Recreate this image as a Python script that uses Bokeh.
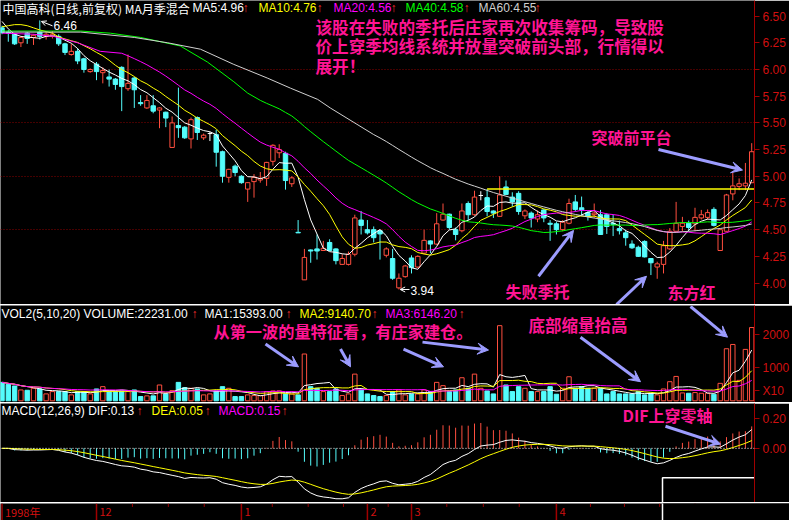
import numpy as np
from bokeh.plotting import figure
from bokeh.layouts import column
from bokeh.models import (Range1d, FixedTicker, PrintfTickFormatter, Arrow, VeeHead,
                          OpenHead, Span)
from bokeh.core.properties import value
from bokeh.embed import file_html
from bokeh.resources import INLINE

# ---------------- data ----------------
opens = [6.39, 6.35, 6.33, 6.25, 6.34, 6.30, 6.35, 6.31, 6.31, 6.31,
         6.24, 6.14, 6.17, 6.10, 5.98, 6.05, 5.97, 5.93, 5.91, 6.02,
         5.82, 5.92, 5.69, 5.64, 5.66, 5.62, 5.60, 5.27, 5.475, 5.46,
         5.35, 5.55, 5.36, 5.40, 5.39, 5.23, 4.99, 5.095, 5.00, 4.88,
         4.95, 4.965, 4.98, 5.14, 5.22, 5.215, 4.93, 4.475, 4.03, 4.31,
         4.32, 4.305, 4.38, 4.32, 4.175, 4.175, 4.27, 4.59, 4.50, 4.50,
         4.49, 4.26, 4.23, 3.955, 4.06, 4.235, 4.15, 4.28, 4.395, 4.365,
         4.59, 4.645, 4.50, 4.49, 4.745, 4.64, 4.82, 4.80, 4.675, 4.625,
         4.90, 4.805, 4.84, 4.63, 4.655, 4.60, 4.685, 4.56, 4.555, 4.50,
         4.56, 4.76, 4.705, 4.66, 4.64, 4.64, 4.64, 4.56, 4.51, 4.47,
         4.365, 4.335, 4.39, 4.23, 4.15, 4.175, 4.32, 4.485, 4.53, 4.56,
         4.555, 4.61, 4.615, 4.69, 4.305, 4.485, 4.835, 4.905, 4.91, 4.94]
highs = [6.41, 6.37, 6.34, 6.31, 6.35, 6.33, 6.46, 6.35, 6.36, 6.33,
         6.25, 6.24, 6.20, 6.11, 6.01, 6.07, 6.02, 6.00, 5.92, 6.03,
         6.14, 5.93, 5.76, 5.76, 5.76, 5.645, 5.605, 5.56, 5.83, 5.47,
         5.55, 5.56, 5.40, 5.415, 5.435, 5.24, 5.07, 5.11, 5.01, 4.945,
         5.02, 5.04, 5.135, 5.30, 5.30, 5.23, 5.00, 4.59, 4.32, 4.315,
         4.455, 4.395, 4.41, 4.325, 4.27, 4.295, 4.64, 4.675, 4.59, 4.53,
         4.50, 4.335, 4.32, 4.09, 4.17, 4.26, 4.26, 4.50, 4.40, 4.655,
         4.745, 4.65, 4.52, 4.745, 4.765, 4.865, 4.86, 4.88, 4.68, 5.00,
         4.96, 4.85, 4.86, 4.69, 4.67, 4.68, 4.69, 4.59, 4.575, 4.59,
         4.79, 4.825, 4.81, 4.675, 4.745, 4.685, 4.655, 4.64, 4.585, 4.50,
         4.40, 4.35, 4.40, 4.23, 4.20, 4.395, 4.515, 4.76, 4.62, 4.585,
         4.705, 4.685, 4.69, 4.71, 4.505, 4.835, 5.05, 4.98, 5.125, 5.31]
lows = [6.33, 6.26, 6.23, 6.21, 6.24, 6.23, 6.28, 6.28, 6.29, 6.22,
        6.135, 6.13, 6.05, 5.97, 5.97, 5.90, 5.87, 5.84, 5.81, 5.61,
        5.80, 5.64, 5.66, 5.63, 5.59, 5.45, 5.46, 5.27, 5.36, 5.35,
        5.26, 5.34, 5.34, 5.33, 5.09, 4.94, 4.94, 5.00, 4.93, 4.76,
        4.80, 4.94, 4.91, 5.10, 5.17, 4.875, 4.90, 4.47, 4.03, 4.19,
        4.22, 4.30, 4.30, 4.175, 4.17, 4.165, 4.25, 4.455, 4.455, 4.38,
        4.22, 4.24, 4.03, 3.94, 4.05, 4.09, 4.14, 4.27, 4.28, 4.36,
        4.585, 4.50, 4.40, 4.475, 4.59, 4.63, 4.775, 4.625, 4.61, 4.62,
        4.825, 4.715, 4.64, 4.60, 4.52, 4.57, 4.57, 4.395, 4.455, 4.485,
        4.55, 4.67, 4.625, 4.585, 4.61, 4.45, 4.46, 4.44, 4.455, 4.35,
        4.32, 4.245, 4.24, 4.075, 4.04, 4.09, 4.31, 4.48, 4.485, 4.485,
        4.485, 4.595, 4.595, 4.53, 4.30, 4.48, 4.775, 4.87, 4.87, 4.935]
closes = [6.345, 6.34, 6.24, 6.30, 6.29, 6.32, 6.31, 6.33, 6.33, 6.24,
          6.16, 6.17, 6.08, 6.00, 6.00, 5.98, 5.99, 5.91, 5.86, 5.84,
          5.87, 5.81, 5.68, 5.71, 5.61, 5.64, 5.545, 5.50, 5.455, 5.36,
          5.53, 5.41, 5.385, 5.40, 5.225, 5.00, 5.065, 5.035, 4.94, 4.94,
          4.99, 4.98, 5.13, 5.29, 5.25, 4.96, 4.985, 4.47, 4.24, 4.30,
          4.30, 4.325, 4.305, 4.21, 4.23, 4.27, 4.61, 4.54, 4.47, 4.425,
          4.46, 4.32, 4.045, 4.045, 4.16, 4.145, 4.25, 4.40, 4.365, 4.555,
          4.645, 4.52, 4.455, 4.675, 4.64, 4.805, 4.82, 4.67, 4.655, 4.825,
          4.83, 4.76, 4.67, 4.675, 4.61, 4.64, 4.61, 4.55, 4.50, 4.57,
          4.745, 4.69, 4.685, 4.625, 4.655, 4.455, 4.53, 4.55, 4.49, 4.425,
          4.33, 4.25, 4.245, 4.19, 4.18, 4.35, 4.485, 4.56, 4.56, 4.52,
          4.615, 4.64, 4.66, 4.54, 4.50, 4.825, 4.91, 4.93, 4.935, 5.23]
volumes = [5600, 5000, 4500, 3300, 3200, 3800, 3600, 2100, 2800, 2800,
           2800, 1800, 2800, 2800, 2100, 3600, 4300, 2800, 2800, 3000,
           2800, 3300, 1300, 1500, 1500, 4800, 2100, 3100, 5600, 4000,
           3800, 3600, 1800, 2100, 3000, 4300, 3800, 1300, 1300, 1800,
           1600, 1600, 2800, 3000, 3000, 2100, 2100, 1800, 14200, 4300,
           3800, 2800, 2800, 3600, 1600, 2100, 8100, 3300, 2100, 1600,
           1300, 1600, 2800, 3300, 1800, 2100, 2100, 3300, 2800, 5600,
           4600, 2800, 3300, 7000, 3800, 8100, 3800, 3000, 2100, 22800,
           4800, 2800, 4300, 3800, 2800, 2800, 2800, 4300, 2000, 3800,
           7300, 3800, 4300, 3800, 3800, 3800, 2100, 2800, 2100, 2100,
           2100, 2800, 1800, 2300, 1800, 3600, 5800, 7400, 2400, 2300,
           2500, 2300, 2300, 2000, 5300, 15800, 17100, 6200, 15600, 22231]

ma5_head = [6.45, 6.38, 6.33, 6.31]
ma10_head = [6.40, 6.41, 6.42, 6.42, 6.41, 6.39, 6.37, 6.355, 6.34]
ma20_head_x = [0, 5, 8.2, 12, 15.6]
ma20_head = [6.34, 6.33, 6.31, 6.25, 6.17]
ma40_head_x = [0, 12.5, 17.2, 22, 28.3, 32.6, 36.8]
ma40_head = [6.36, 6.36, 6.34, 6.30, 6.22, 6.07, 5.885]
ma60_head_x = [0, 12.5, 21, 26.3, 31.5, 36.7, 42.1, 45.8, 50.1, 52.1]
ma60_head = [6.35, 6.35, 6.30, 6.25, 6.19, 6.05, 5.92, 5.825, 5.72, 5.64]

price_ticks = [4.00, 4.25, 4.50, 4.75, 5.00, 5.25, 5.50, 5.75, 6.00, 6.25, 6.50]
price_grid = [4.5, 5.0, 5.5, 6.0]
vol_ticks = [300, 1000, 2000]
vol_tick_labels = {300: "X10"}
macd_ticks = [0.0, 0.2]
month_starts = [0, 15, 38, 58, 65, 88, 110]
month_labels = ["1998年", "12", "1", "2", "3", "4", "5"]
minor_ticks = [20.7, 26.4, 32.1, 42.9, 48.6, 54.2, 61.3, 70.6, 76.4, 82.1, 93.4, 98.8, 104.4]
high_mark_idx, low_mark_idx = 6, 63

# ---------------- indicators ----------------
N = len(closes)
o = np.array(opens); h = np.array(highs); l = np.array(lows); c = np.array(closes)
v10 = np.array(volumes) / 10.0
idx = np.arange(N)


def ma_tail(arr, n):
    xs = list(range(n - 1, len(arr)))
    return xs, [float(np.mean(arr[i - n + 1:i + 1])) for i in xs]


def ma_partial(arr, n):
    return [float(np.mean(arr[max(0, i - n + 1):i + 1])) for i in range(len(arr))]


def ema(arr, n):
    k = 2.0 / (n + 1)
    out = [arr[0]]
    for val in arr[1:]:
        out.append(out[-1] + k * (val - out[-1]))
    return np.array(out)


dif = ema(c, 12) - ema(c, 26)
dea = ema(dif, 9)
hist = 2 * (dif - dea)

# ---------------- style ----------------
BG = "#000000"; AXC = "#a00000"; LBL = "#d01010"
RED = "#ff4f3f"; CYAN = "#54fcfc"; WHITE = "#ffffff"; YEL = "#ffff00"
MAG = "#ff00ff"; GRN = "#00ff00"; GRY = "#d0d0d0"; PINK = "#ff1493"; LAV = "#9c9cff"
ARW = "#ff3030"
CJK = value("Noto Sans CJK SC")
LAT = value("Liberation Sans")


# reference-pixel -> data helpers (used only to place annotations)
def ix(px): return px / 6.3 - 0.24
def pp(py): return 4.0 + (290.0 - py) / 109.6
def pv(py): return (409.3 - py) / 33.3 * 1000.0
def pm(py): return (457.3 - py) / 150.0


X0, X1 = ix(0), ix(754)
FW, RB = 754, 35
xr = Range1d(X0, X1)


def mkfig(hgt, yr, ticks, fmt):
    p = figure(frame_width=FW, frame_height=hgt, x_range=xr, y_range=yr,
               output_backend="svg", toolbar_location=None,
               x_axis_location=None, y_axis_location="right",
               min_border_left=0, min_border_right=RB, min_border_top=0, min_border_bottom=0,
               background_fill_color=BG, border_fill_color=BG, outline_line_color=None)
    p.xgrid.visible = False
    p.ygrid.visible = False
    ax = p.yaxis[0]
    ax.ticker = FixedTicker(ticks=ticks)
    ax.formatter = PrintfTickFormatter(format=fmt)
    ax.axis_line_color = AXC
    ax.major_tick_line_color = AXC
    ax.minor_tick_line_color = None
    ax.major_tick_out = 5
    ax.major_tick_in = 0
    ax.major_label_text_color = LBL
    ax.major_label_text_font = "Liberation Sans"
    ax.major_label_text_font_size = "12px"
    ax.major_label_standoff = 3
    return p


def sep():
    s = figure(frame_width=FW + RB, frame_height=1, x_axis_location=None, y_axis_location=None,
               toolbar_location=None, output_backend="svg", min_border=0,
               min_border_left=0, min_border_right=0, min_border_top=0, min_border_bottom=0,
               background_fill_color=AXC, border_fill_color=AXC, outline_line_color=None)
    s.xgrid.visible = False
    s.ygrid.visible = False
    return s


def texts(p, items, y, size="12px", font=LAT, style="normal"):
    for t, x, col in items:
        align = "center" if t == "↑" else "left"
        p.text(x=[ix(x)], y=[y], text=[t], text_color=col, text_font=font,
               text_font_size=size, text_baseline="middle", text_align=align,
               text_font_style=style)


def arrow(p, x0, y0, x1, y1):
    p.add_layout(Arrow(end=VeeHead(size=11, fill_color=LAV, line_color=LAV, line_width=1),
                       x_start=x0, y_start=y0, x_end=x1, y_end=y1,
                       line_color=LAV, line_width=3))


up = c > o
dn = c < o
dj = c == o
wick_col = [RED if u else (CYAN if d else WHITE) for u, d in zip(up, dn)]

# ---------------- price panel ----------------
p1 = mkfig(304, Range1d(pp(312), pp(0)), price_ticks, "%.2f")
p1.ygrid.visible = True
p1.ygrid[0].ticker = FixedTicker(ticks=price_grid)
p1.ygrid[0].grid_line_color = "#8a0000"
p1.ygrid[0].grid_line_dash = "1 2"

p1.segment(x0=idx, y0=l, x1=idx, y1=h, line_color=wick_col, line_width=1)
p1.vbar(x=idx[up], width=0.7, top=c[up], bottom=o[up], fill_color=BG, line_color=RED, line_width=1)
p1.vbar(x=idx[dn], width=0.7, top=o[dn], bottom=c[dn], fill_color=CYAN, line_color=CYAN, line_width=1)
p1.segment(x0=idx[dj] - 0.35, y0=c[dj], x1=idx[dj] + 0.35, y1=c[dj], line_color=WHITE, line_width=1)

tx, ty = ma_tail(c, 5)
p1.line(list(range(4)) + tx, ma5_head + ty, line_color=WHITE, line_width=1)
tx, ty = ma_tail(c, 10)
p1.line(list(range(9)) + tx, ma10_head + ty, line_color=YEL, line_width=1)
tx, ty = ma_tail(c, 20)
p1.line(ma20_head_x + tx, ma20_head + ty, line_color=MAG, line_width=1)
tx, ty = ma_tail(c, 40)
p1.line(ma40_head_x + tx, ma40_head + ty, line_color=GRN, line_width=1)
tx, ty = ma_tail(c, 60)
p1.line(ma60_head_x + tx, ma60_head + ty, line_color=GRY, line_width=1)

# previous platform line (level of the bar-77 high)
p1.segment(x0=[77], y0=[highs[77]], x1=[X1 + 2], y1=[highs[77]], line_color=YEL, line_width=1.5)

# high / low markers
p1.add_layout(Arrow(end=OpenHead(size=5, line_color=WHITE, line_width=1),
                    x_start=ix(52), y_start=pp(26), x_end=high_mark_idx + 0.25, y_end=highs[high_mark_idx] - 0.01,
                    line_color=WHITE, line_width=1))
p1.text(x=[ix(53)], y=[pp(26)], text=["%.2f" % highs[high_mark_idx]], text_color=WHITE,
        text_font=LAT, text_font_size="12px", text_baseline="middle")
p1.add_layout(Arrow(end=OpenHead(size=5, line_color=WHITE, line_width=1),
                    x_start=ix(409), y_start=lows[low_mark_idx], x_end=low_mark_idx + 0.2, y_end=lows[low_mark_idx],
                    line_color=WHITE, line_width=1))
p1.text(x=[ix(410)], y=[pp(298)], text=["%.2f" % lows[low_mark_idx]], text_color=WHITE,
        text_font=LAT, text_font_size="12px", text_baseline="middle")

texts(p1, [("中国高科(日线,前复权) MA月季混合", 2, WHITE)], pp(8), font=CJK)
texts(p1, [("MA5:4.96", 192, WHITE), ("↑", 245, ARW), ("MA10:4.76", 258, YEL), ("↑", 319, ARW),
           ("MA20:4.56", 333, MAG), ("↑", 393, ARW), ("MA40:4.58", 405, GRN), ("↑", 466, ARW),
           ("MA60:4.55", 478, GRY), ("↑", 537, ARW)], pp(8))

texts(p1, [("该股在失败的季托后庄家再次收集筹码，导致股", 315, PINK)], pp(27.5), size="16.6px", font=CJK, style="bold")
texts(p1, [("价上穿季均线系统并放量突破前头部，行情得以", 315, PINK)], pp(47), size="16.6px", font=CJK, style="bold")
texts(p1, [("展开！", 315, PINK)], pp(67), size="16.6px", font=CJK, style="bold")
texts(p1, [("突破前平台", 591, PINK)], pp(140), size="16px", font=CJK, style="bold")
texts(p1, [("失败季托", 505, PINK)], pp(298.5), size="16px", font=CJK, style="bold")
texts(p1, [("东方红", 667, PINK)], pp(299.5), size="16px", font=CJK, style="bold")

arrow(p1, ix(658), pp(153), ix(742), pp(174))
arrow(p1, ix(538), pp(283), ix(573), pp(236))
arrow(p1, ix(616), pp(312), ix(646), pp(283))

# ---------------- volume panel ----------------
p2 = mkfig(97, Range1d(pv(411), pv(313)), vol_ticks, "%d")
p2.yaxis[0].major_label_overrides = vol_tick_labels
vup = c >= o
p2.vbar(x=idx[vup], width=0.7, top=v10[vup], bottom=0, fill_color=BG, line_color=RED, line_width=1)
p2.vbar(x=idx[~vup], width=0.7, top=v10[~vup], bottom=0, fill_color=CYAN, line_color=CYAN, line_width=1)
p2.line(idx, ma_partial(v10, 5), line_color=WHITE, line_width=1)
p2.line(idx, ma_partial(v10, 10), line_color=YEL, line_width=1)
p2.line(idx, ma_partial(v10, 20), line_color=MAG, line_width=1)

texts(p2, [("VOL2(5,10,20) VOLUME:22231.00", 1, WHITE), ("↑", 194, ARW), ("MA1:15393.00", 204, WHITE),
           ("↑", 288, ARW), ("MA2:9140.70", 299, YEL), ("↑", 374, ARW), ("MA3:6146.20", 385, MAG),
           ("↑", 461, ARW)], pv(321.5))
texts(p2, [("从第一波的量特征看，有庄家建仓。", 213, PINK)], pv(338.5), size="16.2px", font=CJK, style="bold")
texts(p2, [("底部缩量抬高", 528, PINK)], pv(332.5), size="16.5px", font=CJK, style="bold")
arrow(p2, ix(265), pv(352), ix(298), pv(375))
arrow(p2, ix(340), pv(357), ix(350), pv(375))
arrow(p2, ix(403), pv(357), ix(443), pv(375))
arrow(p2, ix(422), pv(350), ix(488), pv(358))
arrow(p2, ix(580), pv(345), ix(640), pv(390))
arrow(p2, ix(690), pv(314), ix(727), pv(345))

# ---------------- MACD panel ----------------
p3 = mkfig(99, Range1d(pm(512), pm(412)), macd_ticks, "%.2f")
p3.add_layout(Span(location=0, dimension="width", line_color=WHITE, line_dash="1 2", line_width=1))
hcol = [RED if vv >= 0 else CYAN for vv in hist]
p3.segment(x0=idx, y0=np.zeros(N), x1=idx, y1=hist, line_color=hcol, line_width=1)
p3.line(idx, dif, line_color=WHITE, line_width=1)
p3.line(idx, dea, line_color=YEL, line_width=1)
texts(p3, [("MACD(12,26,9) DIF:0.13", 1, WHITE), ("↑", 139, ARW), ("DEA:0.05", 151, YEL),
           ("↑", 207, ARW), ("MACD:0.15", 218, MAG), ("↑", 284, ARW)], pm(419.5))
texts(p3, [("DIF上穿零轴", 622, PINK)], pm(423.5), size="16px", font=CJK, style="bold")
arrow(p3, ix(665), pm(435), ix(720), pm(453))
p3.quad(left=[ix(662)], right=[X1 + 5], top=[pm(487)], bottom=[pm(600)],
        fill_color=BG, line_color=WHITE, line_width=1.5)

# ---------------- date strip ----------------
p4 = figure(frame_width=FW + RB, frame_height=17,
            x_range=Range1d(X0, X0 + (X1 - X0) * (FW + RB) / FW), y_range=Range1d(0, 1),
            output_backend="svg", toolbar_location=None, x_axis_location=None, y_axis_location=None,
            min_border=0, min_border_left=0, min_border_right=0, min_border_top=0, min_border_bottom=0,
            background_fill_color=BG, border_fill_color=BG, outline_line_color=None)
p4.xgrid.visible = False
p4.ygrid.visible = False
ms = np.array(month_starts, dtype=float)
p4.segment(x0=ms, y0=np.zeros(len(ms)), x1=ms, y1=np.ones(len(ms)), line_color=AXC, line_width=1.5)
mt = np.array(minor_ticks)
p4.segment(x0=mt, y0=np.ones(len(mt)), x1=mt, y1=np.full(len(mt), 0.8), line_color=AXC, line_width=1)
p4.text(x=ms, y=np.full(len(ms), 0.5), text=month_labels, text_color=LBL, text_font=CJK,
        text_font_size="11px", text_baseline="middle", x_offset=3)
p4.quad(left=[ix(662)], right=[X1 + 20], top=[2], bottom=[-1], fill_color=BG, line_color=WHITE, line_width=1.5)

layout = column(p1, sep(), p2, sep(), p3, sep(), p4, spacing=0)
open("out.html", "w").write(file_html(layout, INLINE))
